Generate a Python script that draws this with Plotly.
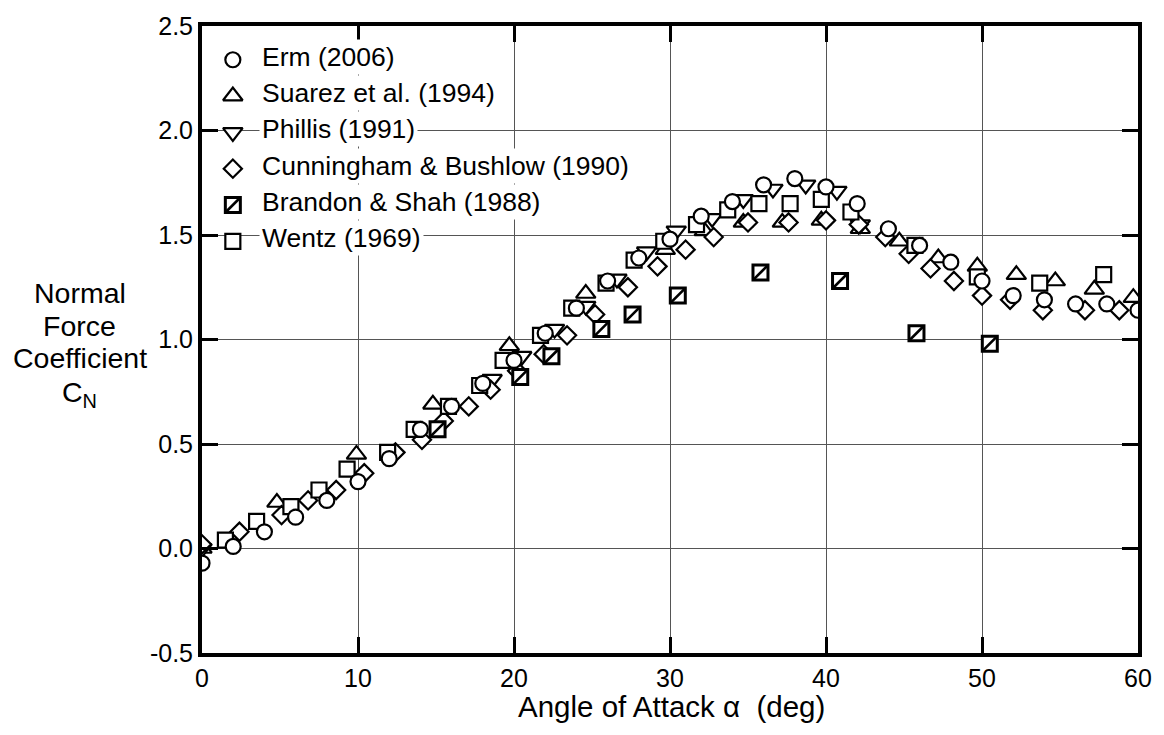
import plotly.graph_objects as go

# ---- data: normal force coefficient vs angle of attack ----
erm_alpha = [0, 2, 4, 6, 8, 10, 12, 14, 16, 18, 20, 22, 24, 26, 28, 30,
             32, 34, 36, 38, 40, 42, 44, 46, 48, 50, 52, 54, 56, 58, 60]
erm_cn = [-0.07, 0.01, 0.08, 0.15, 0.23, 0.32, 0.43, 0.57, 0.68, 0.79, 0.90,
          1.03, 1.15, 1.28, 1.39, 1.48, 1.59, 1.66, 1.74, 1.77, 1.73, 1.65,
          1.53, 1.45, 1.37, 1.28, 1.21, 1.19, 1.17, 1.17, 1.14]

suarez_alpha = [0, 4.8, 9.9, 14.8, 19.7, 24.6, 29.7, 32.2, 34.7, 37.2, 39.7,
                42.2, 44.7, 47.2, 49.7, 52.2, 54.7, 57.2, 59.7]
suarez_cn = [0.00, 0.22, 0.45, 0.69, 0.97, 1.22, 1.43, 1.52, 1.56, 1.56, 1.57,
             1.53, 1.47, 1.39, 1.35, 1.31, 1.28, 1.24, 1.20]

phillis_alpha = [0, 18.6, 20.5, 22.6, 24.6, 26.6, 28.5, 30.4, 32.7, 34.7,
                 36.6, 38.7, 40.7, 42.2]
phillis_cn = [0.00, 0.81, 0.92, 1.05, 1.16, 1.29, 1.42, 1.52, 1.58, 1.67,
              1.72, 1.74, 1.71, 1.55]

cunningham_alpha = [0, 2.4, 5.1, 6.8, 8.6, 10.4, 12.4, 14.1, 15.5, 17.1, 18.5,
                    20.2, 21.9, 23.4, 25.2, 27.3, 29.2, 31.0, 32.8, 35.0, 37.6,
                    40.0, 42.1, 43.8, 45.3, 46.7, 48.2, 50.0, 51.8, 53.9, 56.6,
                    58.8]
cunningham_cn = [0.02, 0.08, 0.16, 0.23, 0.28, 0.36, 0.46, 0.52, 0.61, 0.68,
                 0.76, 0.85, 0.93, 1.02, 1.12, 1.25, 1.35, 1.43, 1.49, 1.56,
                 1.56, 1.57, 1.55, 1.49, 1.41, 1.34, 1.28, 1.21, 1.19, 1.14,
                 1.14, 1.14]

brandon_alpha = [15.1, 20.4, 22.4, 25.6, 27.6, 30.5, 35.8, 40.9, 45.8, 50.5]
brandon_cn = [0.57, 0.82, 0.92, 1.05, 1.12, 1.21, 1.32, 1.28, 1.03, 0.98]

wentz_alpha = [1.5, 3.5, 5.7, 7.5, 9.3, 11.9, 13.6, 15.8, 17.8, 19.3, 21.7,
               23.7, 25.9, 27.7, 29.6, 31.7, 33.7, 35.7, 37.7, 39.7, 41.6,
               45.7, 49.7, 53.7, 57.8]
wentz_cn = [0.04, 0.13, 0.20, 0.28, 0.38, 0.46, 0.57, 0.68, 0.78, 0.90, 1.02,
            1.15, 1.27, 1.38, 1.47, 1.55, 1.62, 1.65, 1.65, 1.67, 1.61,
            1.45, 1.30, 1.27, 1.31]

x_ticks = [0, 10, 20, 30, 40, 50, 60]
x_tick_labels = ["0", "10", "20", "30", "40", "50", "60"]
y_ticks = [-0.5, 0.0, 0.5, 1.0, 1.5, 2.0, 2.5]
y_tick_labels = ["-0.5", "0.0", "0.5", "1.0", "1.5", "2.0", "2.5"]

y_title_lines = ["Normal", "Force", "Coefficient", "C<sub>N</sub>"]
x_title = "Angle of Attack α&nbsp; (deg)"

FONT = "Arial, Liberation Sans, sans-serif"
TICK_FS = 25
LEGEND_FS = 26.5
TITLE_FS = 28.5
X_TITLE_FS = 29.5

# series styling (legend order)
series = [
    dict(key="erm", name="Erm (2006)", x=erm_alpha, y=erm_cn,
         symbol="circle", size=15, lw=2.2),
    dict(key="suarez", name="Suarez et al. (1994)", x=suarez_alpha, y=suarez_cn,
         symbol="triangle-up", size=17, lw=2.2),
    dict(key="phillis", name="Phillis (1991)", x=phillis_alpha, y=phillis_cn,
         symbol="triangle-down", size=17, lw=2.2),
    dict(key="cunningham", name="Cunningham & Bushlow (1990)",
         x=cunningham_alpha, y=cunningham_cn, symbol="diamond", size=14, lw=2.2),
    dict(key="brandon", name="Brandon & Shah (1988)", x=brandon_alpha,
         y=brandon_cn, symbol="square", size=15, lw=3.0, hatch=True),
    dict(key="wentz", name="Wentz (1969)", x=wentz_alpha, y=wentz_cn,
         symbol="square", size=15, lw=2.2),
]
by_key = {s["key"]: s for s in series}
draw_order = ["suarez", "phillis", "cunningham", "brandon", "wentz", "erm"]


def marker_traces(s, x, y, xaxis="x", yaxis="y"):
    out = [go.Scatter(
        x=x, y=y, mode="markers", xaxis=xaxis, yaxis=yaxis,
        showlegend=False, name=s["name"],
        marker=dict(symbol=s["symbol"], size=s["size"], color="white",
                    line=dict(color="black", width=s["lw"])),
    )]
    if s.get("hatch"):
        out.append(go.Scatter(
            x=x, y=y, mode="markers", xaxis=xaxis, yaxis=yaxis,
            showlegend=False, hoverinfo="skip",
            marker=dict(symbol="line-ne", size=s["size"], color="black",
                        line=dict(color="black", width=2.6)),
        ))
    return out


fig = go.Figure()
for k in draw_order:
    s = by_key[k]
    for t in marker_traces(s, s["x"], s["y"]):
        fig.add_trace(t)

# ---- legend (drawn on an overlay axis in plot-fraction units) ----
PLOT_L, PLOT_R, PLOT_T, PLOT_B = 202, 1143, 21, 653
W, H = 1164, 735
pw, ph = PLOT_R - PLOT_L, PLOT_B - PLOT_T


def fx(px):
    return (px - PLOT_L) / pw


def fy(py):
    return (PLOT_B - py) / ph


row0, row_step = 52, 36.6
sym_x, text_x = 233, 259
fig.add_shape(type="rect", xref="paper", yref="paper", layer="between",
              x0=fx(PLOT_L + 3), x1=fx(text_x + 2),
              y0=fy(row0 + 5 * row_step + 20), y1=fy(row0 - 16),
              fillcolor="white", line=dict(width=0))
for i, s in enumerate(series):
    ry = fy(row0 + i * row_step)
    for t in marker_traces(s, [fx(sym_x)], [fy(row0 + 3 + i * row_step)],
                           xaxis="x2", yaxis="y2"):
        fig.add_trace(t)
    fig.add_annotation(text=s["name"], xref="paper", yref="paper",
                       x=fx(text_x), y=ry, xanchor="left", yanchor="middle",
                       showarrow=False, bgcolor="white", borderpad=2,
                       font=dict(family=FONT, size=LEGEND_FS, color="black"))

# ---- axis titles ----
fig.add_annotation(text=x_title, xref="paper", yref="paper",
                   x=fx(674), y=fy(707), xanchor="center", yanchor="middle",
                   showarrow=False,
                   font=dict(family=FONT, size=X_TITLE_FS, color="black"))
y_title_rows = [290, 323, 356, 392]
for line, py in zip(y_title_lines, y_title_rows):
    fig.add_annotation(text=line, xref="paper", yref="paper",
                       x=fx(79), y=fy(py), xanchor="center", yanchor="middle",
                       showarrow=False,
                       font=dict(family=FONT, size=TITLE_FS, color="black"))

axis_common = dict(
    ticks="inside", ticklen=16, tickwidth=3, tickcolor="black",
    showline=True, linewidth=4, linecolor="black", mirror="ticks",
    showgrid=True, gridcolor="#555555", gridwidth=1, zeroline=False,
    tickfont=dict(family=FONT, size=TICK_FS, color="black"),
)

fig.update_layout(
    width=W, height=H,
    margin=dict(l=PLOT_L, r=W - PLOT_R, t=PLOT_T, b=H - PLOT_B),
    paper_bgcolor="white", plot_bgcolor="white",
    showlegend=False,
    font=dict(family=FONT, size=TICK_FS, color="black"),
    xaxis=dict(range=[0, 60], tickvals=x_ticks, ticktext=x_tick_labels,
               **axis_common),
    yaxis=dict(range=[-0.5, 2.5], tickvals=y_ticks, ticktext=y_tick_labels,
               **axis_common),
    xaxis2=dict(range=[0, 1], overlaying="x", visible=False, fixedrange=True),
    yaxis2=dict(range=[0, 1], overlaying="y", visible=False, fixedrange=True),
)

fig.write_html("out.html")
